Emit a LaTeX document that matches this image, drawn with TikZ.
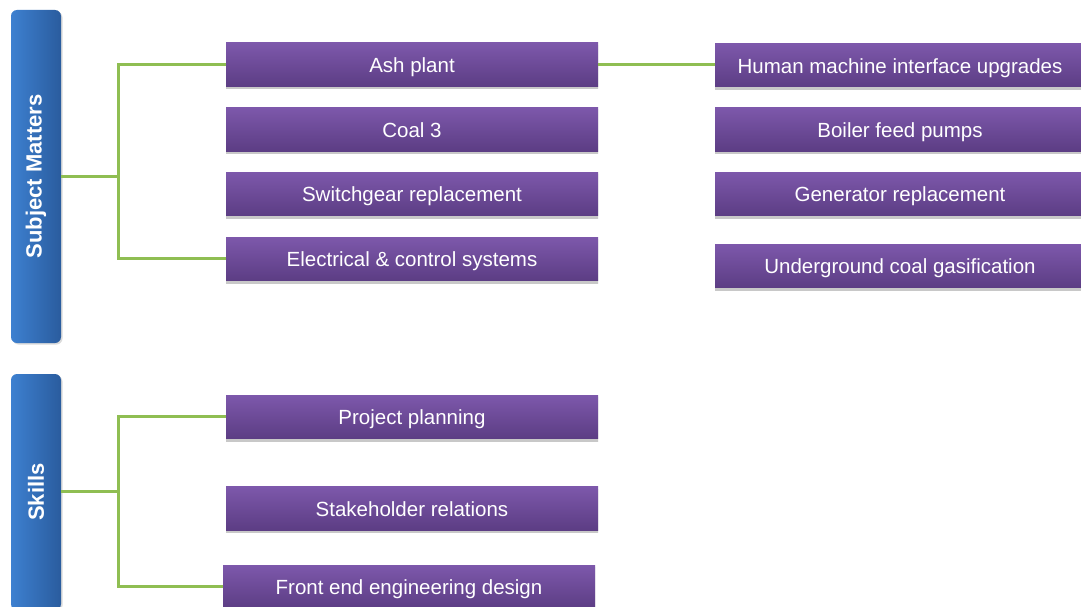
\documentclass[tikz,border=0pt]{standalone}
\usepackage{fontspec}
\setmainfont{Liberation Sans}
\usetikzlibrary{shadows}
\definecolor{ptop}{HTML}{7D58AB}
\definecolor{pbot}{HTML}{5C3D84}
\definecolor{bleft}{HTML}{3D80D0}
\definecolor{bright}{HTML}{2A5C9E}
\definecolor{grn}{HTML}{8FBE52}
\tikzset{
  item/.style={rectangle, anchor=north west, inner sep=0pt, outer sep=0pt,
    minimum width=372pt, minimum height=43.5pt, top color=ptop, bottom color=pbot,
    text=white, font=\fontsize{20.5}{24}\selectfont, text height=17pt, text depth=1pt,
    general shadow={shadow xshift=0pt, shadow yshift=-2.5pt, opacity=0.3,
      top color=black!70, bottom color=black!70}},
  catbar/.style={rectangle, rounded corners=6pt, inner sep=0pt, outer sep=0pt,
    minimum width=50pt, left color=bleft, right color=bright,
    general shadow={shadow xshift=1.5pt, shadow yshift=-1.5pt, opacity=0.2,
      left color=black!70, right color=black!70}},
  cattext/.style={text=white, font=\fontsize{22}{26}\selectfont\bfseries, rotate=90},
  link/.style={draw=grn, line width=3pt},
}
\begin{document}
\begin{tikzpicture}[x=1pt,y=-1pt]
\useasboundingbox[fill=white] (0,0) rectangle (1081,607);
% category bars
\node[catbar, minimum height=333pt] (sm) at (36,176.5) {};
\node[cattext] at (sm.center) {Subject Matters};
\node[catbar, minimum height=236pt] (sk) at (36,492) {};
\node[cattext] at (sk.center) {Skills};
% left column
\node[item] (ash) at (226,43) {Ash plant};
\node[item] (coal) at (226,107.5) {Coal 3};
\node[item] (swg) at (226,172) {Switchgear replacement};
\node[item] (elec) at (226,237) {Electrical \& control systems};
% right column
\node[item, minimum width=380pt] (hmi) at (715,43.5) {\hspace*{-10pt}Human machine interface upgrades};
\node[item, minimum width=380pt] (bfp) at (715,107.5) {\hspace*{-10pt}Boiler feed pumps};
\node[item, minimum width=380pt] (gen) at (715,172) {\hspace*{-10pt}Generator replacement};
\node[item, minimum width=380pt] (ucg) at (715,244) {\hspace*{-10pt}Underground coal gasification};
% skills column
\node[item] (pp) at (226,395) {Project planning};
\node[item] (shr) at (226,486.5) {Stakeholder relations};
\node[item] (fed) at (223,565) {Front end engineering design};
% connectors
\coordinate (j1) at (118,176.5);
\coordinate (j2) at (118,491);
\draw[link] (sm.east |- j1) -- (j1);
\draw[link] (ash.west) -| (j1) |- (elec.west);
\draw[link] (ash.east) -- (ash.east -| hmi.west);
\draw[link] (sk.east |- j2) -- (j2);
\draw[link] (pp.west) -| (j2) |- (fed.west);
\end{tikzpicture}
\end{document}
